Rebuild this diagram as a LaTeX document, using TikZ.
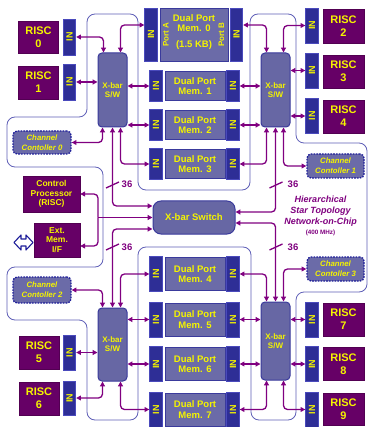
\documentclass[tikz,border=0pt]{standalone}
\usepackage{fontspec}
\usepackage{graphicx}
\setmainfont{Liberation Sans}
\usetikzlibrary{arrows.meta}
\definecolor{riscfill}{HTML}{660066}
\definecolor{infill}{HTML}{2E2E96}
\definecolor{indraw}{HTML}{4A4ABC}
\definecolor{memfill}{HTML}{6B6BA8}
\definecolor{memdraw}{HTML}{3A3A9C}
\definecolor{xbfill}{HTML}{6767A4}
\definecolor{txt}{HTML}{F4F400}
\definecolor{arrc}{HTML}{800080}
\definecolor{outl}{HTML}{6060B8}
\definecolor{ccdraw}{HTML}{1E1E9A}
\newcommand\myfs[2]{\fontsize{#1}{#2}\selectfont}
\tikzset{
  risc/.style={draw=riscfill!80!black, fill=riscfill, text=txt, inner sep=0pt, align=center,
    minimum width=40, minimum height=33, font=\myfs{11}{13}\bfseries},
  ctl/.style={risc, font=\myfs{8.5}{9.5}\bfseries},
  inbox/.style={draw=indraw, fill=infill, line width=0.8, text=txt, inner sep=0pt,
    minimum width=12.5, font=\myfs{9}{10}\bfseries},
  mem/.style={draw=memdraw, fill=memfill, line width=0.8, text=txt, inner sep=0pt,
    align=center, minimum width=60, font=\myfs{9.5}{10.5}\bfseries},
  xbar/.style={draw=memdraw, fill=xbfill, line width=1, rounded corners=4, text=txt,
    align=center, inner sep=0pt, minimum width=29, font=\myfs{8}{9}\bfseries},
  cc/.style={draw=ccdraw, fill=memfill, line width=1.3, dash pattern=on 1.6pt off 1.2pt,
    rounded corners=4, text=txt, align=center, inner sep=0pt,
    font=\myfs{7.8}{10}\bfseries\itshape},
  outline/.style={draw=outl, line width=0.8, rounded corners=8},
  biarr/.style={draw=arrc, line width=1.3, rounded corners=4,
    {Triangle[length=4.8pt,width=4.8pt]}-{Triangle[length=4.8pt,width=4.8pt]}},
  arr/.style={draw=arrc, line width=1.3, rounded corners=4,
    -{Triangle[length=4.8pt,width=4.8pt]}},
  tick/.style={draw=arrc, line width=1.3},
  lbl/.style={text=arrc, font=\myfs{9.5}{11}\bfseries, inner sep=0pt},
  port/.style={text=txt, font=\myfs{8}{9}\bfseries, inner sep=0pt, rotate=90}
}
\begin{document}
\begin{tikzpicture}[x=1pt,y=-1pt]
\useasboundingbox (0,0) rectangle (368,427);
\fill[white] (0,0) rectangle (368,427);

% outline snake
\draw[outline] (87,14) -- (138,14) -- (138,190) -- (250,190) -- (250,14) -- (296,14)
  -- (296,143) -- (367,143) -- (367,292) -- (296,292) -- (296,420) -- (251,420)
  -- (251,247) -- (138,247) -- (138,420) -- (87,420) -- (87,320) -- (7,320)
  -- (7,267) -- (103,267) -- (103,167) -- (7,167) -- (7,117) -- (87,117) -- cycle;

% top-left
\node[risc, minimum height=32] (risc0) at (38.5,37) {RISC\\0};
\node[inbox, minimum height=36] (in0) at (69.5,37) {\rotatebox{90}{IN}};
\node[risc] (risc1) at (38.5,82.5) {RISC\\1};
\node[inbox, minimum height=36] (in1) at (69.5,82) {\rotatebox{90}{IN}};
\node[xbar, minimum height=74] (xl1) at (112.5,90) {X-bar\\S/W};

% mem 0
\node[inbox, minimum height=53] (ina0) at (151,34.5) {\rotatebox{90}{IN}};
\node[mem, minimum width=68, minimum height=53] (m0) at (194,34.5) {};
\node[inbox, minimum height=53] (inb0) at (236.5,34.5) {\rotatebox{90}{IN}};
\node[mem, draw=none, fill=none] (m0t) at (194,32) {Dual Port\\Mem. 0\\[5pt](1.5 KB)};
\node[port] (pa) at (166,34.5) {Port A};
\node[port] (pb) at (221.5,34.5) {Port B};

% mem 1-3
\node[inbox, minimum height=31] (m1a) at (156,86) {\rotatebox{90}{IN}};
\node[mem, minimum height=29] (m1) at (195,86) {Dual Port\\Mem. 1};
\node[inbox, minimum height=31] (m1b) at (233,86) {\rotatebox{90}{IN}};
\node[inbox, minimum height=31] (m2a) at (156,125) {\rotatebox{90}{IN}};
\node[mem, minimum height=29] (m2) at (195,125) {Dual Port\\Mem. 2};
\node[inbox, minimum height=31] (m2b) at (233,125) {\rotatebox{90}{IN}};
\node[inbox, minimum height=31] (m3a) at (156,164) {\rotatebox{90}{IN}};
\node[mem, minimum height=29] (m3) at (195,164) {Dual Port\\Mem. 3};
\node[inbox, minimum height=31] (m3b) at (233,164) {\rotatebox{90}{IN}};

% top-right
\node[xbar, minimum height=74] (xr1) at (275.5,90) {X-bar\\S/W};
\node[inbox, minimum height=35] (in2) at (312,25.5) {\rotatebox{90}{IN}};
\node[risc, minimum width=41, minimum height=34] (risc2) at (343.5,26) {RISC\\2};
\node[inbox, minimum height=35] (in3) at (312,70.5) {\rotatebox{90}{IN}};
\node[risc, minimum width=41] (risc3) at (343.5,71.5) {RISC\\3};
\node[inbox, minimum height=35] (in4) at (312,116) {\rotatebox{90}{IN}};
\node[risc, minimum width=41] (risc4) at (343.5,116.5) {RISC\\4};

% channel controllers
\node[cc, minimum width=58, minimum height=23] (cc0) at (42,142.5) {Channel\\Contoller 0};
\node[cc, minimum width=57, minimum height=24] (cc1) at (335.5,166) {Channel\\Contoller 1};
\node[cc, minimum width=58, minimum height=26] (cc2) at (42,290) {Channel\\Contoller 2};
\node[cc, minimum width=57, minimum height=24] (cc3) at (335.5,269) {Channel\\Contoller 3};

% control processor & ext mem
\node[ctl, minimum width=57, minimum height=36] (cp) at (51.5,194) {Control\\Processor\\(RISC)};
\node[ctl, minimum width=46, minimum height=34] (em) at (57,240) {Ext.\\Mem.\\I/F};
\draw[draw=ccdraw, line width=1.1, fill=white, line join=round]
  (14,242.5) -- (21,235) -- (21,239) -- (26,239) -- (26,235) -- (33,242.5)
  -- (26,250) -- (26,246) -- (21,246) -- (21,250) -- cycle;

% switch
\node[xbar, rounded corners=8, minimum width=82, minimum height=33,
  font=\myfs{9.5}{11}\bfseries] (sw) at (194,217.5) {X-bar Switch};
\node[text=arrc, align=center, inner sep=0pt, font=\myfs{9}{11}\bfseries\itshape]
  (noc) at (320.5,216) {Hierarchical\\Star Topology\\Network-on-Chip\\[-1.5pt]{\myfs{6.3}{7}\upshape (400 MHz)}};

% mem 4-7
\node[inbox, minimum height=35] (m4a) at (156,274) {\rotatebox{90}{IN}};
\node[mem, minimum height=33] (m4) at (195,274) {Dual Port\\Mem. 4};
\node[inbox, minimum height=35] (m4b) at (233,274) {\rotatebox{90}{IN}};
\node[inbox, minimum height=35] (m5a) at (156,319.5) {\rotatebox{90}{IN}};
\node[mem, minimum height=33] (m5) at (195,319.5) {Dual Port\\Mem. 5};
\node[inbox, minimum height=35] (m5b) at (233,319.5) {\rotatebox{90}{IN}};
\node[inbox, minimum height=35] (m6a) at (156,364) {\rotatebox{90}{IN}};
\node[mem, minimum height=33] (m6) at (195,364) {Dual Port\\Mem. 6};
\node[inbox, minimum height=35] (m6b) at (233,364) {\rotatebox{90}{IN}};
\node[inbox, minimum height=35] (m7a) at (156,409.5) {\rotatebox{90}{IN}};
\node[mem, minimum height=33] (m7) at (195,409.5) {Dual Port\\Mem. 7};
\node[inbox, minimum height=35] (m7b) at (233,409.5) {\rotatebox{90}{IN}};

% bottom-left
\node[xbar, minimum height=73] (xl2) at (112.5,344.5) {X-bar\\S/W};
\node[risc] (risc5) at (39,352.5) {RISC\\5};
\node[inbox, minimum height=35] (in5) at (69.5,352.5) {\rotatebox{90}{IN}};
\node[risc] (risc6) at (39,398.5) {RISC\\6};
\node[inbox, minimum height=34] (in6) at (69.5,398) {\rotatebox{90}{IN}};

% bottom-right
\node[xbar, minimum height=78] (xr2) at (275.5,341) {X-bar\\S/W};
\node[inbox, minimum height=35] (in7) at (312,319.5) {\rotatebox{90}{IN}};
\node[risc, minimum width=41] (risc7) at (343.5,319.5) {RISC\\7};
\node[inbox, minimum height=35] (in8) at (312,364) {\rotatebox{90}{IN}};
\node[risc, minimum width=41] (risc8) at (343.5,364) {RISC\\8};
\node[inbox, minimum height=35] (in9) at (312,409.5) {\rotatebox{90}{IN}};
\node[risc, minimum width=41, minimum height=32] (risc9) at (343.5,409) {RISC\\9};

% connectors top-left
\draw[biarr] (in0.east) -| ([xshift=6]xl1.north west);
\draw[biarr] (in1.east) -- (in1.east -| xl1.west);
\draw[biarr] ([xshift=-7]xl1.north east) |- ([yshift=9.5]ina0.west);
\draw[biarr] (xl1.east |- m1a.west) -- (m1a.west);
\draw[biarr] (xl1.east |- m2a.west) -- (m2a.west);
\draw[biarr] ([xshift=-7]xl1.south east) |- (m3a.west);
\draw[biarr] ([xshift=5]xl1.south west) |- (cc0.east);
\draw[biarr] (xl1.south) |- ([yshift=11.5]sw.west);

% connectors top-right
\draw[biarr] ([yshift=9.5]inb0.east) -| ([xshift=6]xr1.north west);
\draw[biarr] ([xshift=-7]xr1.north east) |- (in2.west);
\draw[biarr] (xr1.east |- in3.west) -- (in3.west);
\draw[biarr] (xr1.east |- in4.west) -- (in4.west);
\draw[biarr] (m1b.east) -- (m1b.east -| xr1.west);
\draw[biarr] (m2b.east) -- (m2b.east -| xr1.west);
\draw[biarr] ([xshift=6]xr1.south west) |- (m3b.east);
\draw[biarr] (xr1.south) |- ([yshift=5.5]sw.east);
\draw[biarr] ([xshift=-7]xr1.south east) |- (cc1.west);

% control processor
\coordinate (j) at (98,217.5);
\draw[arr] (j) |- (cp.east);
\draw[arr] (j) |- ([yshift=-6]em.east);
\draw[arr] (j) -- (sw.west);

% connectors bottom-left
\draw[biarr] (xl2.north) |- ([yshift=-11.5]sw.west);
\draw[biarr] ([xshift=5]xl2.north west) |- (cc2.east);
\draw[biarr] ([xshift=-7]xl2.north east) |- (m4a.west);
\draw[biarr] (xl2.east |- m5a.west) -- (m5a.west);
\draw[biarr] (xl2.east |- m6a.west) -- (m6a.west);
\draw[biarr] ([xshift=-7]xl2.south east) |- (m7a.west);
\draw[biarr] (in5.east) -- (in5.east -| xl2.west);
\draw[biarr] (in6.east) -| ([xshift=5]xl2.south west);

% connectors bottom-right
\draw[biarr] (xr2.north) |- ([yshift=-5.5]sw.east);
\draw[biarr] ([xshift=6]xr2.north west) |- (m4b.east);
\draw[biarr] ([xshift=-7]xr2.north east) |- (cc3.west);
\draw[biarr] (m5b.east) -- (m5b.east -| xr2.west);
\draw[biarr] (m6b.east) -- (m6b.east -| xr2.west);
\draw[biarr] (xr2.east |- in7.west) -- (in7.west);
\draw[biarr] (xr2.east |- in8.west) -- (in8.west);
\draw[biarr] ([xshift=6]xr2.south west) |- (m7b.east);
\draw[biarr] ([xshift=-7]xr2.south east) |- (in9.west);

% bus width marks
\draw[tick] (106,188) -- (119,182);
\node[lbl] (b1) at (127,184.5) {36};
\draw[tick] (106,250) -- (119,244);
\node[lbl] (b2) at (127,247) {36};
\draw[tick] (269.5,188) -- (282.5,182);
\node[lbl] (b3) at (293,184.5) {36};
\draw[tick] (269.5,250) -- (282.5,244);
\node[lbl] (b4) at (293,247) {36};
\end{tikzpicture}
\end{document}
